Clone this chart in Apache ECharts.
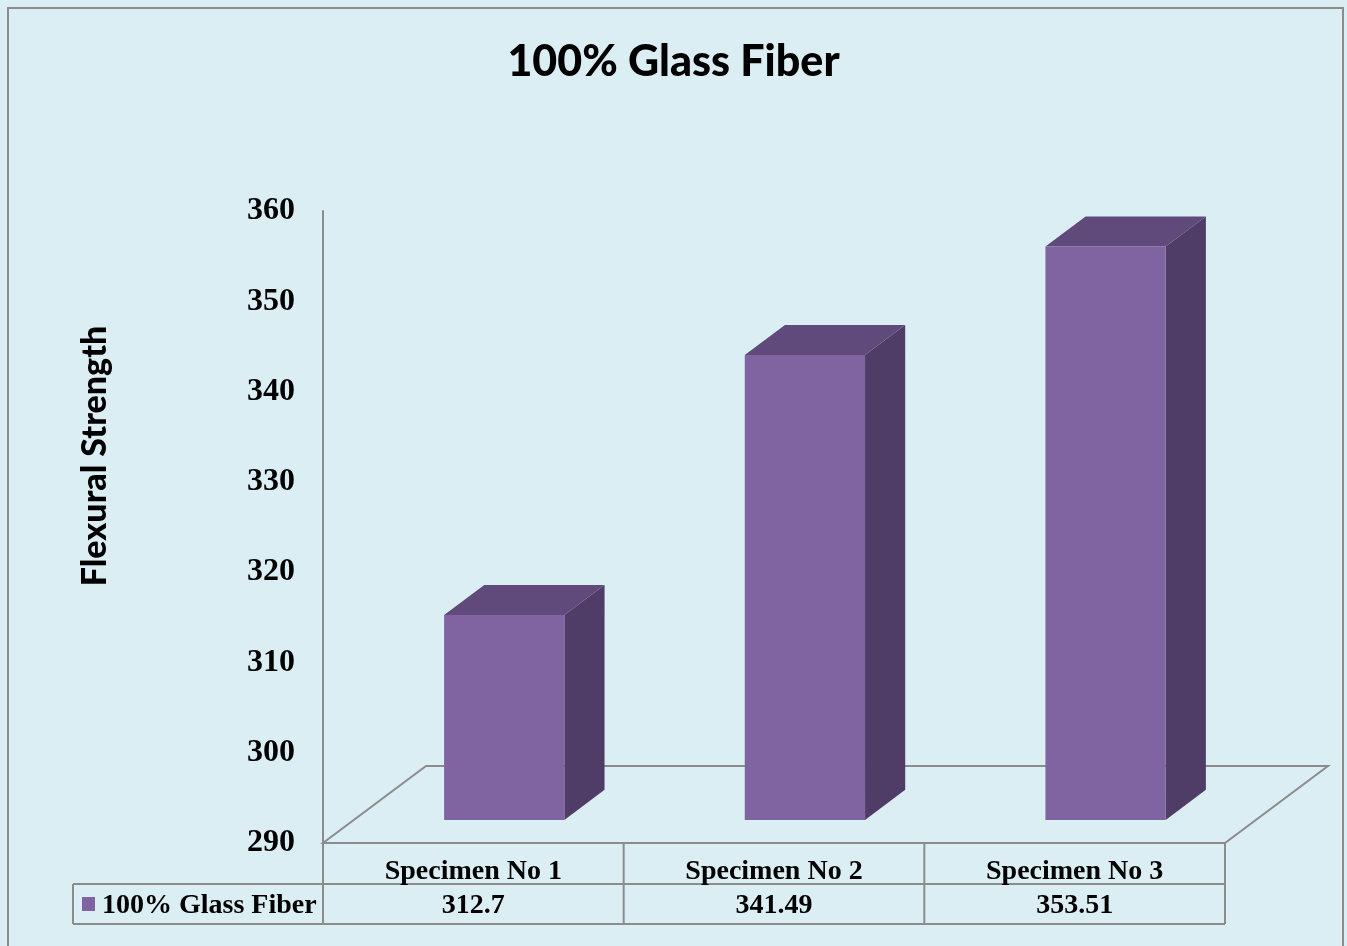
<!DOCTYPE html>
<html>
<head>
<meta charset="utf-8">
<script src="https://cdn.jsdelivr.net/npm/echarts@6/dist/echarts.min.js"></script>
<style>
  html, body { margin: 0; padding: 0; background: #dbeef3; }
  #main { width: 1347px; height: 946px; }
</style>
</head>
<body>
<div id="main"></div>
<script>
var categories = ['Specimen No 1', 'Specimen No 2', 'Specimen No 3'];
var seriesName = '100% Glass Fiber';
var values = [312.7, 341.49, 353.51];
var yMin = 290, yMax = 360, yStep = 10;

var FRONT = '#8064a2', SIDE = '#4f3d67', TOP = '#604a7b', LINE = '#8c8c8c';
// floor depth in px (3d look)
var DX = 103, DY = -77;
var D0 = 0.3, D1 = 0.69;

var chart = echarts.init(document.getElementById('main'));

function renderFloor(params, api) {
    var band = api.size([1, 0])[0];
    var p0 = api.coord([0, yMin]);
    var p2 = api.coord([categories.length - 1, yMin]);
    var L = p0[0] - band / 2, R = p2[0] + band / 2, y = p0[1];
    return {
        type: 'polygon',
        shape: { points: [[L, y], [R, y], [R + DX, y + DY], [L + DX, y + DY]] },
        style: { fill: 'none', stroke: LINE, lineWidth: 2 }
    };
}

function renderBar(params, api) {
    var idx = api.value(0), val = api.value(1);
    var band = api.size([1, 0])[0];
    var base = api.coord([idx, yMin]);
    var top = api.coord([idx, val]);
    var w = band * 0.4;
    var x0 = base[0] + D0 * DX - w / 2, x1 = x0 + w;
    var yb = base[1] + D0 * DY, yt = top[1] + D0 * DY;
    var sx = (D1 - D0) * DX, sy = (D1 - D0) * DY;
    return {
        type: 'group',
        children: [
            { type: 'polygon', shape: { points: [[x1, yt], [x1 + sx, yt + sy], [x1 + sx, yb + sy], [x1, yb]] }, style: { fill: SIDE } },
            { type: 'polygon', shape: { points: [[x0, yt], [x0 + sx, yt + sy], [x1 + sx, yt + sy], [x1, yt]] }, style: { fill: TOP } },
            { type: 'rect', shape: { x: x0, y: yt, width: w, height: yb - yt }, style: { fill: FRONT } }
        ]
    };
}

var option = {
    backgroundColor: '#dbeef3',
    animation: false,
    title: {
        text: '100% Glass Fiber',
        left: 'center',
        top: 36,
        textStyle: { fontFamily: 'Lato', fontWeight: 900, fontSize: 43, color: '#000' }
    },
    grid: { left: 323, right: 122, top: 211, bottom: 103 },
    xAxis: {
        type: 'category',
        data: categories,
        axisLine: { show: false },
        axisTick: { show: false },
        axisLabel: {
            margin: 15,
            fontFamily: 'Liberation Serif', fontWeight: 'bold', fontSize: 28, color: '#000'
        }
    },
    yAxis: {
        type: 'value',
        min: yMin, max: yMax, interval: yStep,
        axisLine: { show: true, lineStyle: { color: LINE, width: 2 } },
        axisTick: { show: false },
        splitLine: { show: false },
        axisLabel: {
            margin: 28,
            padding: [6, 0, 0, 0],
            fontFamily: 'Liberation Serif', fontWeight: 'bold', fontSize: 32, color: '#000'
        }
    },
    series: [
        { type: 'custom', name: 'floor', renderItem: renderFloor, data: [[0, yMin]], z: 1, silent: true },
        { type: 'custom', name: seriesName, renderItem: renderBar, z: 2,
          data: values.map(function (v, i) { return [i, v]; }) }
    ]
};
chart.setOption(option);

// data table + frame
var p0 = chart.convertToPixel({ gridIndex: 0 }, [0, yMin]);
var p2 = chart.convertToPixel({ gridIndex: 0 }, [categories.length - 1, yMin]);
var band = (p2[0] - p0[0]) / (categories.length - 1);
var L = p0[0] - band / 2, R = p2[0] + band / 2;
var y0 = p0[1], y1 = y0 + 41, y2 = y1 + 40;
var legL = 73;
var tableStyle = { stroke: LINE, lineWidth: 2, fill: 'none' };

var g = [
    { type: 'rect', shape: { x: 8, y: 8, width: 1335, height: 960 }, style: { fill: 'none', stroke: LINE, lineWidth: 2 }, z: -1 },
    { type: 'text', rotation: Math.PI / 2, x: 95, y: 456,
      style: { text: 'Flexural Strength', fontFamily: 'Lato', fontWeight: 900, fontSize: 34, fill: '#000', align: 'center', verticalAlign: 'middle' } },
    { type: 'line', shape: { x1: L, y1: y0, x2: L, y2: y2 }, style: tableStyle },
    { type: 'line', shape: { x1: legL, y1: y1, x2: R, y2: y1 }, style: tableStyle },
    { type: 'line', shape: { x1: legL, y1: y2, x2: R, y2: y2 }, style: tableStyle },
    { type: 'line', shape: { x1: legL, y1: y1, x2: legL, y2: y2 }, style: tableStyle },
    { type: 'rect', shape: { x: 82, y: y1 + 13, width: 13, height: 14 }, style: { fill: FRONT } },
    { type: 'text', x: 102, y: (y1 + y2) / 2 + 2,
      style: { text: seriesName, fontFamily: 'Liberation Serif', fontWeight: 'bold', fontSize: 28, fill: '#000', verticalAlign: 'middle' } }
];
for (var i = 0; i <= categories.length; i++) {
    var xv = L + band * i;
    g.push({ type: 'line', shape: { x1: xv, y1: y0, x2: xv, y2: y2 }, style: tableStyle });
}
values.forEach(function (v, i) {
    g.push({ type: 'text', x: L + band * (i + 0.5), y: (y1 + y2) / 2 + 2,
        style: { text: String(v), fontFamily: 'Liberation Serif', fontWeight: 'bold', fontSize: 28, fill: '#000', align: 'center', verticalAlign: 'middle' } });
});
chart.setOption({ graphic: g });
</script>
</body>
</html>
